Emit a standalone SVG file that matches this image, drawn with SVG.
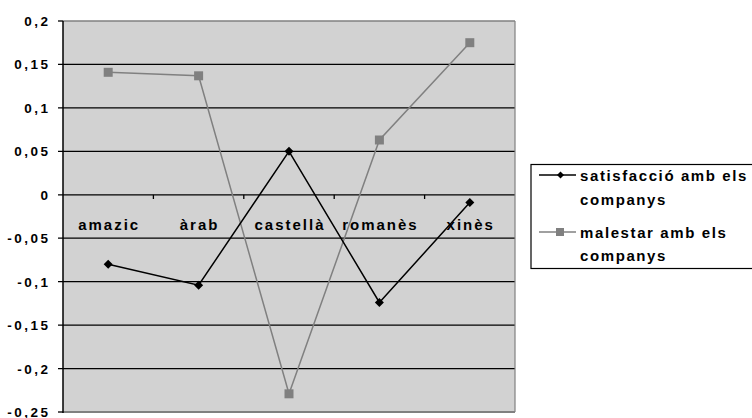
<svg xmlns="http://www.w3.org/2000/svg" width="752" height="418" viewBox="0 0 752 418">
<style>
text{font-family:"Liberation Sans",Arial,sans-serif;font-weight:bold;fill:#000}
.yl{text-anchor:end;font-size:13.5px;letter-spacing:2.5px}
.cl{text-anchor:middle;font-size:15px;letter-spacing:2px}
.lg{font-size:15px;letter-spacing:1.6px}
.grid{stroke:#000;stroke-width:1.3}
.s1{fill:none;stroke:#000;stroke-width:1.5}
.s2{fill:none;stroke:#808080;stroke-width:1.5}
</style>
<defs>
<path id="dia" d="M0,-4.5 L4.5,0 L0,4.5 L-4.5,0 Z" fill="#000"/>
<rect id="sq" x="-4.5" y="-4.5" width="9" height="9" fill="#808080"/>
</defs>
<rect width="752" height="418" fill="#fff"/>
<g id="plot">
<rect x="63" y="21" width="452" height="391" fill="#d2d2d2"/>
<g class="grid">
<line x1="58" y1="64.4" x2="515" y2="64.4"/>
<line x1="58" y1="107.9" x2="515" y2="107.9"/>
<line x1="58" y1="151.3" x2="515" y2="151.3"/>
<line x1="58" y1="194.8" x2="515" y2="194.8"/>
<line x1="58" y1="238.2" x2="515" y2="238.2"/>
<line x1="58" y1="281.7" x2="515" y2="281.7"/>
<line x1="58" y1="325.1" x2="515" y2="325.1"/>
<line x1="58" y1="368.6" x2="515" y2="368.6"/>
<line x1="58" y1="21" x2="63" y2="21"/>
<line x1="58" y1="412" x2="63" y2="412"/>
<line x1="153.4" y1="194.8" x2="153.4" y2="199"/>
<line x1="243.8" y1="194.8" x2="243.8" y2="199"/>
<line x1="334.2" y1="194.8" x2="334.2" y2="199"/>
<line x1="424.6" y1="194.8" x2="424.6" y2="199"/>
</g>
<line x1="63" y1="21" x2="515" y2="21" stroke="#808080" stroke-width="1.5"/>
<line x1="515" y1="21" x2="515" y2="412" stroke="#808080" stroke-width="1.2"/>
<line x1="63" y1="412" x2="515" y2="412" stroke="#808080" stroke-width="2"/>
<line x1="63" y1="21" x2="63" y2="413" stroke="#000" stroke-width="1.5"/>
</g>
<g id="ylabels">
<text class="yl" x="50.5" y="26">0,2</text>
<text class="yl" x="50.5" y="69.4">0,15</text>
<text class="yl" x="50.5" y="112.9">0,1</text>
<text class="yl" x="50.5" y="156.3">0,05</text>
<text class="yl" x="50.5" y="199.8">0</text>
<text class="yl" x="50.5" y="243.2">-0,05</text>
<text class="yl" x="50.5" y="286.7">-0,1</text>
<text class="yl" x="50.5" y="330.1">-0,15</text>
<text class="yl" x="50.5" y="373.6">-0,2</text>
<text class="yl" x="50.5" y="416.5">-0,25</text>
</g>
<g id="xlabels">
<text class="cl" x="109.2" y="229.5">amazic</text>
<text class="cl" x="199.6" y="229.5">àrab</text>
<text class="cl" x="290" y="229.5">castellà</text>
<text class="cl" x="380.4" y="229.5">romanès</text>
<text class="cl" x="470.8" y="229.5">xinès</text>
</g>
<g id="connectors">
<polyline class="s2" points="108.2,72.3 198.6,75.8 289,393.8 379.4,140 469.8,42.7"/>
<polyline class="s1" points="108.2,264.3 198.6,285.2 289,151.3 379.4,302.5 469.8,202.6"/>
</g>
<g id="series-malestar">
<use href="#sq" x="108.2" y="72.3"/>
<use href="#sq" x="198.6" y="75.8"/>
<use href="#sq" x="289" y="393.8"/>
<use href="#sq" x="379.4" y="140"/>
<use href="#sq" x="469.8" y="42.7"/>
</g>
<g id="series-satisfaccio">
<use href="#dia" x="108.2" y="264.3"/>
<use href="#dia" x="198.6" y="285.2"/>
<use href="#dia" x="289" y="151.3"/>
<use href="#dia" x="379.4" y="302.5"/>
<use href="#dia" x="469.8" y="202.6"/>
</g>
<g id="legend">
<rect x="531" y="164.5" width="230" height="104" fill="#fff" stroke="#000" stroke-width="1.2"/>
<line x1="539" y1="175" x2="576" y2="175" stroke="#000" stroke-width="1.5"/>
<path d="M560.5,171.5 L564,175 L560.5,178.5 L557,175 Z" fill="#000"/>
<text class="lg" x="580" y="181">satisfacció amb els</text>
<text class="lg" x="580" y="205">companys</text>
<line x1="539" y1="232" x2="576" y2="232" stroke="#808080" stroke-width="1.5"/>
<rect x="556" y="228" width="8" height="8" fill="#808080"/>
<text class="lg" x="580" y="238">malestar amb els</text>
<text class="lg" x="580" y="261">companys</text>
</g>
</svg>
